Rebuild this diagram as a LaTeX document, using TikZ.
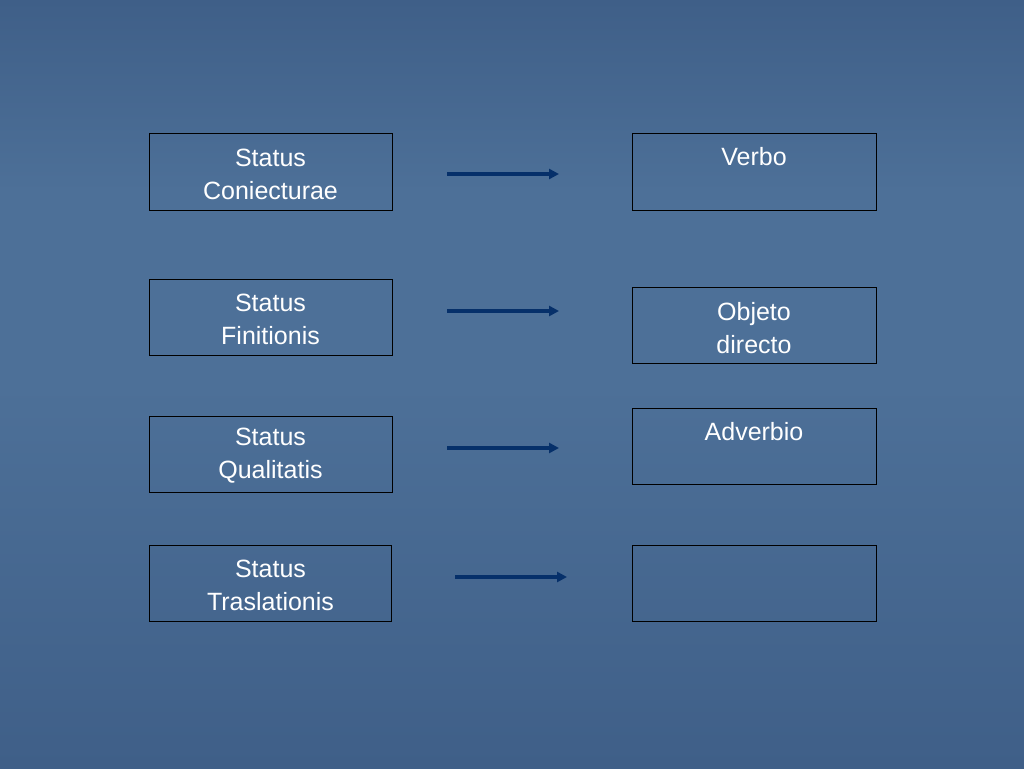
\documentclass[tikz,border=0pt]{standalone}
\usepackage{fontspec}
\setmainfont{Liberation Sans}
\usetikzlibrary{arrows.meta}
\definecolor{bgmid}{HTML}{4D7098}
\definecolor{bgdark}{HTML}{3F5F88}
\definecolor{arr}{HTML}{06306A}
\tikzset{
  box/.style={draw=black, line width=0.8pt},
  lbl/.style={text=white, font=\fontsize{25}{33}\selectfont, align=center},
  arrw/.style={draw=arr, line width=3.5pt, -{Triangle[length=10pt,width=10pt]}}
}
\begin{document}
\begin{tikzpicture}[x=1pt,y=-1pt]
\useasboundingbox (0,0) rectangle (1024,768);
\shade[top color=bgdark, bottom color=bgmid, middle color=bgmid] (0,0) rectangle (1024,384);
\shade[top color=bgmid, bottom color=bgdark] (0,384) rectangle (1024,768);
% left boxes
\draw[box] (149,133) rectangle (392,210);
\node[lbl] (l1) at (270.5,174) {Status\\Coniecturae};
\draw[box] (149,279) rectangle (392,355);
\node[lbl] (l2) at (270.5,319) {Status\\Finitionis};
\draw[box] (149,416) rectangle (392,492);
\node[lbl] (l3) at (270.5,456) {Status\\Qualitatis};
\draw[box] (149,545) rectangle (391,621);
\node[lbl] (l4) at (270.5,585) {Status\\Traslationis};
% right boxes
\draw[box] (632,133) rectangle (876,210);
\node[lbl] (r1) at (754,157) {Verbo};
\draw[box] (632,287) rectangle (876,363);
\node[lbl] (r2) at (754,328) {Objeto\\directo};
\draw[box] (632,408) rectangle (876,484);
\node[lbl] (r3) at (754,432) {Adverbio};
\draw[box] (632,545) rectangle (876,621);
% arrows
\coordinate (a1s) at (447,174); \coordinate (a1e) at (559,174);
\coordinate (a2s) at (447,311); \coordinate (a2e) at (559,311);
\coordinate (a3s) at (447,448); \coordinate (a3e) at (559,448);
\coordinate (a4s) at (455,577); \coordinate (a4e) at (567,577);
\draw[arrw] (a1s) -- (a1e);
\draw[arrw] (a2s) -- (a2e);
\draw[arrw] (a3s) -- (a3e);
\draw[arrw] (a4s) -- (a4e);
\end{tikzpicture}
\end{document}
